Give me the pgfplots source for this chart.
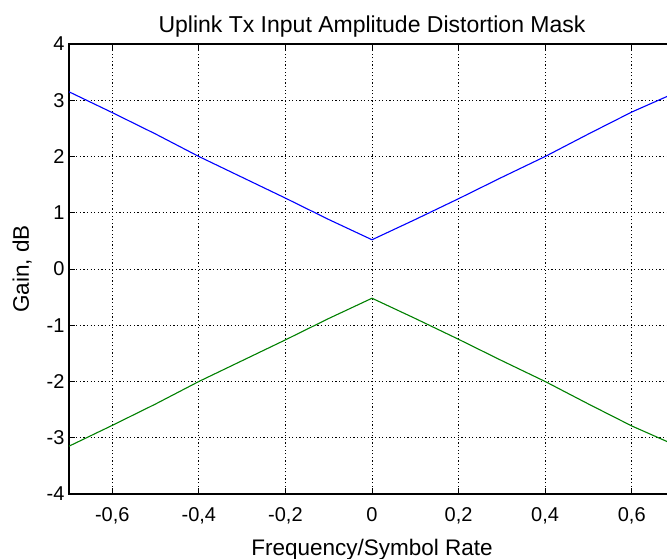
\documentclass[border=0pt]{standalone}
\usepackage{fontspec}
\setmainfont{Liberation Sans}
\usepackage{pgfplots}
\pgfplotsset{compat=1.18}
\definecolor{mblue}{RGB}{0,0,255}
\definecolor{mgreen}{RGB}{0,128,0}

\begin{document}
\begin{tikzpicture}
\begin{axis}[
  scale only axis,
  width=606pt, height=450pt,
  xmin=-0.7, xmax=0.7,
  ymin=-4, ymax=4,
  xtick={-0.6,-0.4,-0.2,0,0.2,0.4,0.6},
  ytick={-4,-3,...,4},
  /pgf/number format/assume math mode=true,
  /pgf/number format/use comma,
  /pgf/number format/fixed,
  tick label style={font=\fontsize{20}{22}\selectfont},
  label style={font=\fontsize{22.5}{26}\selectfont},
  title style={font=\fontsize{23}{27}\selectfont, yshift=-3pt},
  title={Uplink Tx Input Amplitude Distortion Mask},
  xlabel={Frequency/Symbol Rate},
  ylabel={Gain, dB},
  xlabel style={yshift=-8pt},
  ylabel style={yshift=8pt},
  tick align=inside,
  major tick length=6pt,
  tick style={black, line width=0.8pt},
  axis line style={line width=1.3pt},
  grid=major,
  grid style={black, line width=0.8pt, dash pattern=on 1.2pt off 2.4pt},
  xticklabel style={yshift=-10pt},
  yticklabel style={xshift=-1pt},
]
  \addplot[mblue, line width=1.1pt] coordinates {
    (-0.7,3.15) (-0.6,2.78) (-0.5,2.40) (-0.4,2.00) (-0.3,1.63)
    (-0.2,1.26) (-0.1,0.88) (0,0.52) (0.1,0.88) (0.2,1.25)
    (0.3,1.63) (0.4,2.00) (0.5,2.40) (0.6,2.79) (0.7,3.13)
  };
  \addplot[mgreen, line width=1.1pt] coordinates {
    (-0.7,-3.15) (-0.6,-2.78) (-0.5,-2.40) (-0.4,-2.00) (-0.3,-1.63)
    (-0.2,-1.26) (-0.1,-0.88) (0,-0.52) (0.1,-0.88) (0.2,-1.25)
    (0.3,-1.63) (0.4,-2.00) (0.5,-2.40) (0.6,-2.79) (0.7,-3.13)
  };
\end{axis}
\pgfresetboundingbox
\path ([shift={(-69pt,-65pt)}]current axis.south west)
  rectangle ([shift={(598pt,44pt)}]current axis.north west);
\end{tikzpicture}
\end{document}
